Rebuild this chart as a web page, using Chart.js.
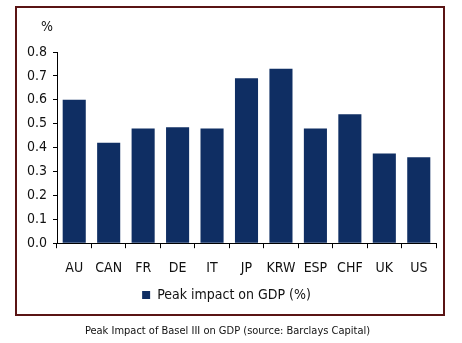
<!DOCTYPE html>
<html>
<head>
<meta charset="utf-8">
<script src="https://cdn.jsdelivr.net/npm/chart.js@4/dist/chart.umd.min.js"></script>
<style>
  body { margin: 0; background: #fff; }
  #wrap { position: relative; width: 462px; height: 343px; }
  #frame { position: absolute; left: 15px; top: 6px; width: 426px; height: 306px; border: 2px solid #5a1414; }
  #chart { position: absolute; left: 0; top: 0; }
  #caption { position: absolute; left: 0; width: 455px; top: 324px; text-align: center;
    font: 11px "DejaVu Sans Condensed", "DejaVu Sans", sans-serif; color: #111; }
</style>
</head>
<body>
<div id="wrap">
  <div id="frame"></div>
  <canvas id="chart" width="462" height="343"></canvas>
  <div id="caption">Peak Impact of Basel III on GDP (source: Barclays Capital)</div>
</div>
<script>
let countries = ["AU", "CAN", "FR", "DE", "IT", "JP", "KRW", "ESP", "CHF", "UK", "US"]
let peakImpact = [0.60, 0.42, 0.48, 0.485, 0.48, 0.69, 0.73, 0.48, 0.54, 0.375, 0.36]
let seriesName = "Peak impact on GDP (%)"
let unitLabel = "%"

let fontFamily = '"DejaVu Sans Condensed", "DejaVu Sans", sans-serif'

let extras = {
	id: 'extras',
	afterUpdate(chart) {
		// nudge legend right and up, as in the original
		let legend = chart.legend
		legend.top -= 5
		legend.bottom -= 5
		legend.legendHitBoxes.forEach(function (b) {
			b.left += 46
			b.top -= 5
		})
	},
	afterDraw(chart) {
		let ctx = chart.ctx
		let y = chart.scales.y
		ctx.save()
		ctx.font = '14px ' + fontFamily
		ctx.fillStyle = '#111'
		ctx.textAlign = 'center'
		ctx.textBaseline = 'middle'
		ctx.fillText(unitLabel, y.right - 10, chart.chartArea.top - 25)
		ctx.restore()
	}
}

let peakChart = new Chart(document.getElementById("chart").getContext('2d'), {
	type: 'bar',
	data: {
		labels: countries,
		datasets: [
			{
				label: seriesName,
				data: peakImpact,
				backgroundColor: "#0f2e63",
				barPercentage: .67,
				categoryPercentage: 1
			}
		]
	},
	options: {
		responsive: false,
		animation: false,
		layout: {
			padding: { left: 17, right: 26, top: 52, bottom: 26 }
		},
		scales: {
			y: {
				min: 0,
				max: 0.8,
				afterFit: function (scale) { scale.width = 40 },
				ticks: {
					stepSize: 0.1,
					padding: 6,
					color: '#111',
					font: { family: fontFamily, size: 14 },
					callback: function (v) { return v.toFixed(1) }
				},
				border: { color: '#000', width: 1 },
				grid: { drawOnChartArea: false, tickLength: 4, color: '#000' }
			},
			x: {
				ticks: {
					padding: 12,
					maxRotation: 0,
					minRotation: 0,
					autoSkip: false,
					color: '#111',
					font: { family: fontFamily, size: 14 }
				},
				border: { color: '#000', width: 1 },
				grid: { drawOnChartArea: false, tickLength: 5, color: '#000' }
			}
		},
		plugins: {
			legend: {
				position: 'bottom',
				labels: {
					boxWidth: 8,
					boxHeight: 8,
					padding: 4,
					color: '#111',
					font: { family: fontFamily, size: 14 }
				}
			},
			tooltip: { enabled: false }
		}
	},
	plugins: [extras]
});
</script>
</body>
</html>
